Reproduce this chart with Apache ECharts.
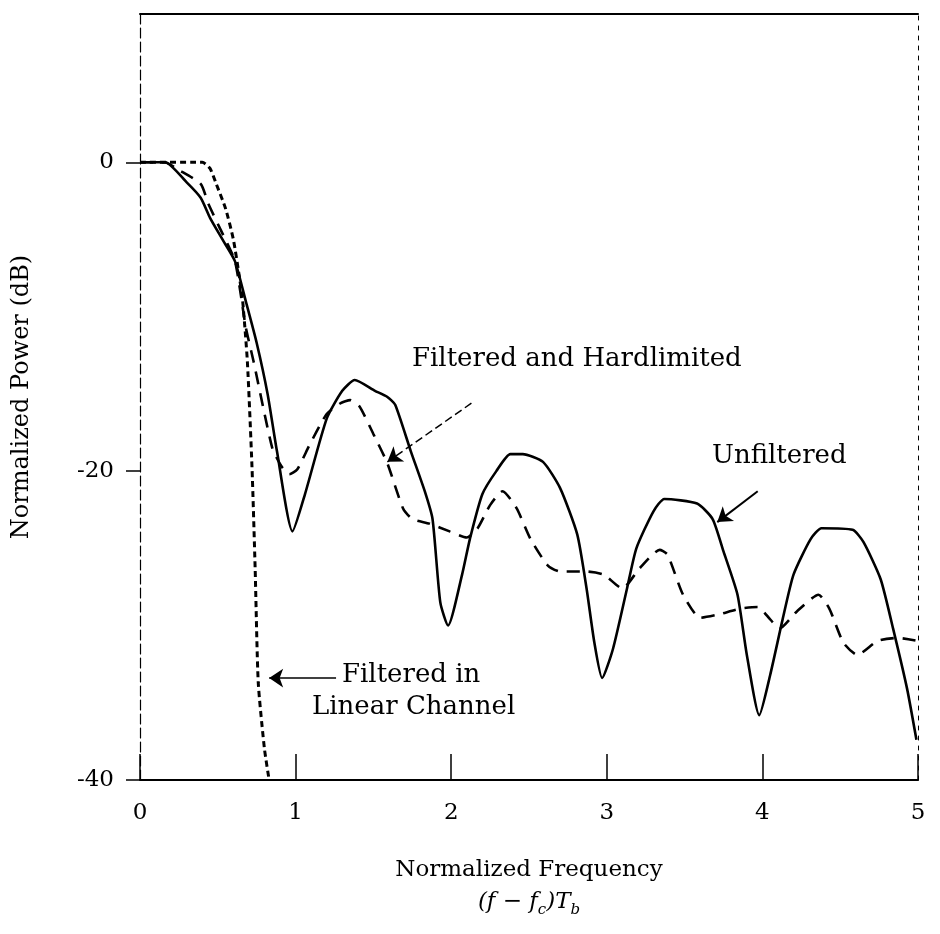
<!DOCTYPE html>
<html>
<head>
<meta charset="utf-8">
<script src="https://cdn.jsdelivr.net/npm/echarts@6/dist/echarts.min.js"></script>
<style>
  html, body { margin: 0; padding: 0; background: #fff; }
  #chart { width: 940px; height: 934px; }
</style>
</head>
<body>
<div id="chart"></div>
<script>
// values: [normalized frequency, dB]
let unfiltered = [
    [0, 0], [0.16, 0], [0.3, -1.3], [0.39, -2.3], [0.45, -3.6], [0.53, -5], [0.61, -6.4],
    [0.68, -9], [0.75, -11.7], [0.82, -15], [0.88, -18.7], [0.98, -23.9], [1.06, -21.5],
    [1.2, -16.6], [1.3, -14.8], [1.38, -14.1], [1.51, -14.8], [1.59, -15.2], [1.64, -15.7],
    [1.74, -18.7], [1.83, -21.3], [1.88, -23.1], [1.93, -28.5], [1.98, -30], [2.07, -26.7],
    [2.12, -24.4], [2.2, -21.5], [2.29, -20], [2.38, -18.9], [2.46, -18.9], [2.59, -19.4],
    [2.7, -21.1], [2.81, -24.1], [2.87, -27.6], [2.92, -31.1], [2.97, -33.4], [3.04, -31.5],
    [3.13, -27.6], [3.19, -25], [3.3, -22.6], [3.37, -21.8], [3.58, -22.1], [3.68, -23.1],
    [3.75, -25.2], [3.84, -28], [3.9, -31.9], [3.98, -35.8], [4.05, -33.2], [4.13, -29.6],
    [4.2, -26.7], [4.31, -24.4], [4.38, -23.7], [4.58, -23.8], [4.65, -24.6], [4.76, -27],
    [4.84, -30.2], [4.93, -34.1], [4.99, -37.4]
];
let hardlimited = [
    [0, 0], [0.16, 0], [0.25, -0.5], [0.39, -1.4], [0.44, -2.7], [0.51, -4.2], [0.61, -6.4],
    [0.68, -10.7], [0.73, -12.9], [0.85, -18.5], [0.91, -19.7], [0.96, -20.2], [1.01, -19.9],
    [1.09, -18.3], [1.2, -16.3], [1.29, -15.6], [1.35, -15.4], [1.41, -15.8], [1.5, -17.6],
    [1.59, -19.5], [1.69, -22.4], [1.75, -23.1], [1.86, -23.4], [1.99, -23.9], [2.1, -24.3],
    [2.17, -23.7], [2.25, -22.2], [2.33, -21.3], [2.42, -22.4], [2.51, -24.4], [2.62, -26.1],
    [2.7, -26.5], [2.87, -26.5], [2.98, -26.7], [3.1, -27.6], [3.21, -26.3], [3.34, -25.1],
    [3.39, -25.4], [3.49, -28], [3.6, -29.5], [3.71, -29.3], [3.86, -28.9], [3.97, -28.8],
    [4.05, -29.6], [4.11, -30.2], [4.22, -29.1], [4.36, -28], [4.43, -28.9], [4.52, -31.1],
    [4.61, -31.9], [4.74, -31], [4.87, -30.8], [5, -31]
];
let linearChannel = [
    [0, 0], [0.4, 0], [0.45, -0.4], [0.49, -1.4], [0.55, -3], [0.6, -5], [0.64, -7.5],
    [0.66, -9], [0.69, -12.9], [0.72, -19.8], [0.74, -26.3], [0.76, -33.7], [0.8, -38], [0.83, -40]
];
let xTicks = [0, 1, 2, 3, 4, 5];
let yTicks = [0, -20, -40];

let serif = 'DejaVu Serif';
let labelFont = '26px "DejaVu Serif"';
let myChart = echarts.init(document.getElementById('chart'));

let option = {
    backgroundColor: '#fff',
    animation: false,
    textStyle: {fontFamily: serif, color: '#000'},
    grid: {left: 140, right: 22, top: 14, bottom: 154},
    xAxis: [{
        type: 'value', min: 0, max: 5, interval: 1,
        splitLine: {show: false},
        axisLine: {onZero: false, lineStyle: {color: '#000', width: 2}},
        axisTick: {inside: true, length: 26, lineStyle: {color: '#000', width: 1.5}},
        axisLabel: {
            fontFamily: serif, fontSize: 23, color: '#000', margin: 22,
            formatter: function (v) { return xTicks.indexOf(v) >= 0 ? String(v) : ''; }
        },
        name: 'Normalized Frequency\n{it|(f − f}{sub|c}{it|)T}{sub|b}',
        nameLocation: 'middle', nameGap: 74,
        nameTextStyle: {
            fontFamily: serif, fontSize: 23, color: '#000', lineHeight: 32,
            rich: {
                it: {fontFamily: serif, fontStyle: 'italic', fontSize: 23, color: '#000'},
                sub: {fontFamily: serif, fontStyle: 'italic', fontSize: 15, color: '#000', verticalAlign: 'bottom', padding: [8, 0, 0, 0]}
            }
        }
    }, {
        type: 'value', min: 0, max: 5, position: 'top',
        axisLine: {show: true, onZero: false, lineStyle: {color: '#000', width: 2}},
        axisTick: {show: false}, axisLabel: {show: false}, splitLine: {show: false}
    }],
    yAxis: [{
        type: 'value', min: -40, max: 9.6, interval: 20,
        splitLine: {show: false},
        axisLine: {onZero: false, lineStyle: {color: '#000', width: 1.2, type: [10, 4]}},
        axisTick: {length: 14, lineStyle: {color: '#000', width: 1.5}},
        axisLabel: {
            fontFamily: serif, fontSize: 23, color: '#000', margin: 26, showMaxLabel: false,
            formatter: function (v) { return yTicks.indexOf(v) >= 0 ? String(v) : ''; }
        },
        name: 'Normalized Power (dB)',
        nameLocation: 'middle', nameGap: 106, nameRotate: 90,
        nameTextStyle: {fontFamily: serif, fontSize: 24, color: '#000'}
    }, {
        type: 'value', min: -40, max: 9.6, position: 'right',
        axisLine: {show: true, onZero: false, lineStyle: {color: '#000', width: 1, type: [4, 6]}},
        axisTick: {show: false}, axisLabel: {show: false}, splitLine: {show: false}
    }],
    series: [{
        name: 'Unfiltered', type: 'line', data: unfiltered,
        showSymbol: false, smooth: 0.2,
        lineStyle: {color: '#000', width: 2.6},
        markLine: {
            silent: true, symbol: ['none', 'arrow'], symbolSize: 14,
            lineStyle: {color: '#000', width: 2, type: 'solid'},
            label: {show: false},
            data: [[{coord: [3.97, -21.3]}, {coord: [3.71, -23.3]}]]
        }
    }, {
        name: 'Filtered and Hardlimited', type: 'line', data: hardlimited,
        showSymbol: false, smooth: 0.2,
        lineStyle: {color: '#000', width: 2.6, type: [13, 9]},
        markLine: {
            silent: true, symbol: ['none', 'arrow'], symbolSize: 14,
            lineStyle: {color: '#000', width: 1.5, type: [8, 4]},
            label: {show: false},
            data: [[{coord: [2.13, -15.6]}, {coord: [1.59, -19.4]}]]
        }
    }, {
        name: 'Filtered in Linear Channel', type: 'line', data: linearChannel,
        showSymbol: false, smooth: 0.2,
        lineStyle: {color: '#000', width: 3, type: [6, 4]},
        markLine: {
            silent: true, symbol: ['none', 'arrow'], symbolSize: 14,
            lineStyle: {color: '#000', width: 1.5, type: 'solid'},
            label: {show: false},
            data: [[{coord: [1.26, -33.4]}, {coord: [0.83, -33.4]}]]
        }
    }],
    graphic: [
        {type: 'text', left: 412, top: 346, style: {text: 'Filtered and Hardlimited', font: labelFont, fill: '#000'}},
        {type: 'text', left: 712, top: 443, style: {text: 'Unfiltered', font: labelFont, fill: '#000'}},
        {type: 'text', left: 342, top: 662, style: {text: 'Filtered in', font: labelFont, fill: '#000'}},
        {type: 'text', left: 312, top: 694, style: {text: 'Linear Channel', font: labelFont, fill: '#000'}}
    ]
};
myChart.setOption(option);
</script>
</body>
</html>
